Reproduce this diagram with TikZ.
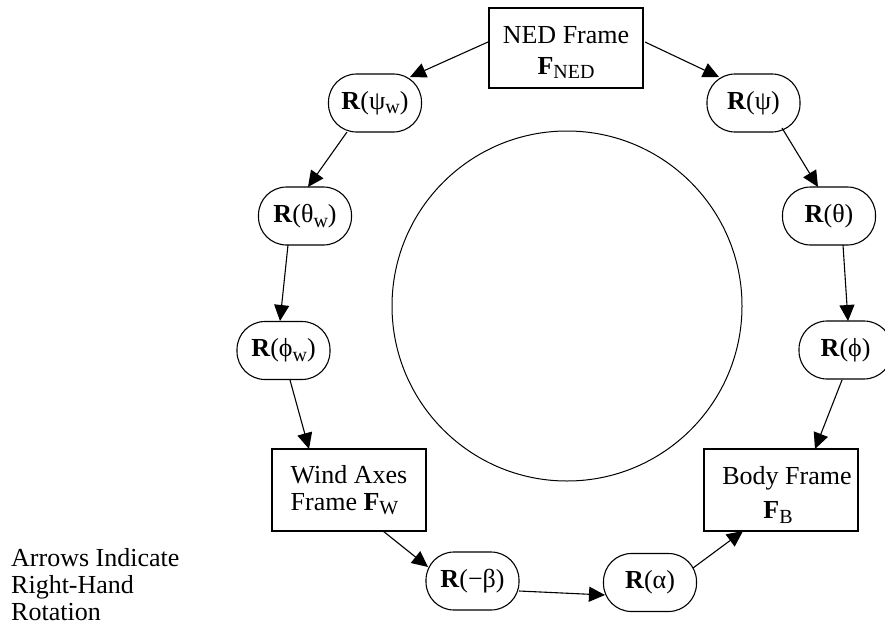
\documentclass[tikz,border=0pt]{standalone}
\usepackage{fontspec}
\setmainfont{Liberation Serif}
\usetikzlibrary{arrows.meta}
% lowered, smaller subscript set in text mode
\newcommand{\lowsub}[1]{\raisebox{-0.18em}{\fontsize{20}{20}\selectfont #1}}

\begin{document}
\begin{tikzpicture}[x=1pt,y=-1pt,
  every node/.style={font=\fontsize{26}{27}\selectfont},
  rot/.style={draw, line width=1.1pt, rounded corners=28pt,
    minimum width=93pt, minimum height=58pt, inner sep=0pt},
  frame/.style={draw, line width=1.1pt, minimum width=154pt,
    minimum height=82pt, inner sep=0pt},
  link/.style={line width=1.1pt, -{Triangle[length=16pt,width=15pt]}},
]
\useasboundingbox (0,0) rectangle (885,626);

% central ring
\node[draw, circle, line width=1pt, minimum size=350pt, inner sep=0pt] (ring) at (567,306) {};

% reference frames
\node[frame, minimum height=80pt, align=center] (ned) at (566,48)
  {\rule{0pt}{26pt}NED Frame\\[4pt]\textbf{F}\lowsub{NED}};
\node[frame, align=left] (wind) at (349,490)
  {Wind Axes\\Frame \textbf{F}\lowsub{W}};
\node[frame, align=center] (body) at (781,490)
  {\rule{0pt}{28pt}\hspace*{12pt}Body Frame\\[7pt]\textbf{F}\lowsub{B}\hspace*{6pt}};

% wind-axes rotation chain
\node[rot] (rpsiw)   at (375,103)   {\textbf{R}(ψ\lowsub{w})};
\node[rot] (rthetaw) at (305,216)   {\textbf{R}(θ\lowsub{w})};
\node[rot] (rphiw)   at (283.5,350.5) {\textbf{R}(ϕ\lowsub{w})};

% body rotation chain
\node[rot] (rpsi)   at (753.5,103) {\textbf{R}(ψ)};
\node[rot] (rtheta) at (829,216)   {\textbf{R}(θ)};
\node[rot] (rphi)   at (845.5,350) {\textbf{R}(ϕ)};

% aerodynamic angles
\node[rot] (rbeta)  at (472.5,581) {\textbf{R}(−β)};
\node[rot] (ralpha) at (650,582.5) {\textbf{R}(α)};

% note
\node[anchor=north west, inner sep=0pt, align=left] (note) at (11,548)
  {Arrows Indicate\\Right-Hand\\Rotation};

% connectors
\draw[link] ([shift={(-78,-6)}]ned.center) -- ([shift={(35,-26)}]rpsiw.center);
\draw[link] ([shift={(-28,29)}]rpsiw.center) -- ([shift={(3,-29)}]rthetaw.center);
\draw[link] ([shift={(-17,29)}]rthetaw.center) -- ([shift={(-3.5,-29.5)}]rphiw.center);
\draw[link] ([shift={(6.5,29.5)}]rphiw.center) -- ([shift={(-40,-41)}]wind.center);
\draw[link] ([shift={(34,41)}]wind.center) -- ([shift={(-44.5,-14)}]rbeta.center);
\draw[link] ([shift={(46.5,10)}]rbeta.center) -- ([shift={(-45,12.5)}]ralpha.center);
\draw[link] ([shift={(43,-14.5)}]ralpha.center) -- ([shift={(-38,41)}]body.center);

\draw[link] ([shift={(79,-6)}]ned.center) -- ([shift={(-34.5,-26)}]rpsi.center);
\draw[link] ([shift={(28.5,25)}]rpsi.center) -- ([shift={(-11,-29)}]rtheta.center);
\draw[link] ([shift={(14,29)}]rtheta.center) -- ([shift={(2.5,-29)}]rphi.center);
\draw[link] ([shift={(-3.5,30)}]rphi.center) -- ([shift={(34,-41)}]body.center);
\end{tikzpicture}
\end{document}
